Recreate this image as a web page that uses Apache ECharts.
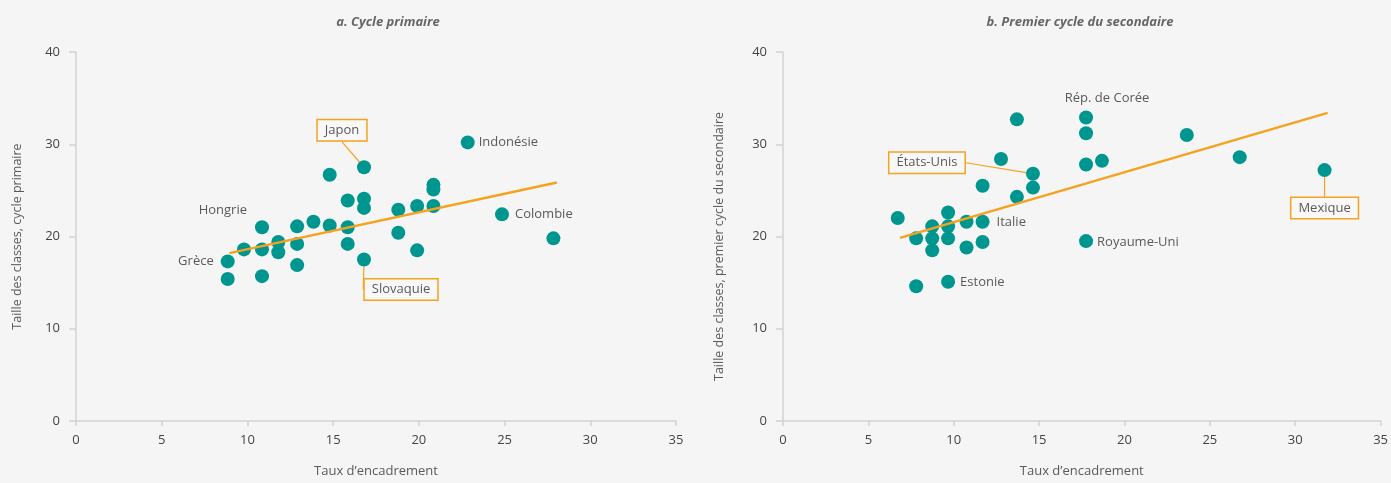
<!DOCTYPE html>
<html>
<head>
<meta charset="utf-8">
<script src="https://cdn.jsdelivr.net/npm/echarts@6/dist/echarts.min.js"></script>
<style>
html,body{margin:0;padding:0;background:#f5f5f5;}
#c{width:1391px;height:483px;}
</style>
</head>
<body>
<div id="c"></div>
<script>
// ---- Data ----
const titles = ['a. Cycle primaire', 'b. Premier cycle du secondaire'];
const xAxisName = 'Taux d\u2019encadrement';
const yAxisNames = ['Taille des classes, cycle primaire', 'Taille des classes, premier cycle du secondaire'];
const xTicks = [0, 5, 10, 15, 20, 25, 30, 35];
const yTicks = [0, 10, 20, 30, 40];

// Panel a: primary
const primaryRatio = [8.85, 8.85, 9.8, 10.85, 10.85, 10.85, 11.8, 11.8, 12.9, 12.9, 12.9, 13.85, 14.8, 14.8, 15.85, 15.85, 15.85, 16.8, 16.8, 16.8, 16.8, 18.8, 18.8, 19.9, 19.9, 20.85, 20.85, 20.85, 22.85, 24.85, 27.85];
const primarySize  = [17.3, 15.4, 18.6, 21.0, 18.6, 15.7, 19.4, 18.3, 21.1, 19.2, 16.9, 21.6, 26.7, 21.2, 23.9, 21.0, 19.2, 27.5, 24.1, 23.1, 17.5, 22.9, 20.4, 23.3, 18.5, 25.6, 25.1, 23.3, 30.2, 22.4, 19.8];
const primaryLabel = ['Grèce', '', '', 'Hongrie', '', '', '', '', '', '', '', '', '', '', '', '', '', 'Japon', '', '', 'Slovaquie', '', '', '', '', '', '', '', 'Indonésie', 'Colombie', ''];
const primaryTrend = [[8.95, 18.2], [28.05, 25.85]];

// Panel b: lower secondary
const secondaryRatio = [6.72, 7.8, 7.8, 8.74, 8.74, 8.74, 9.67, 9.67, 9.67, 9.67, 10.75, 10.75, 11.69, 11.69, 11.69, 12.77, 13.7, 13.7, 14.64, 14.64, 17.75, 17.75, 17.75, 17.75, 18.68, 23.65, 26.75, 31.72];
const secondarySize  = [22.0, 19.8, 14.6, 21.1, 19.8, 18.5, 22.6, 21.1, 19.8, 15.1, 21.6, 18.8, 21.6, 19.4, 25.5, 28.4, 32.7, 24.3, 26.8, 25.3, 32.9, 31.2, 27.8, 19.5, 28.2, 31.0, 28.6, 27.2];
const secondaryLabel = ['', '', '', '', '', '', '', '', '', 'Estonie', '', '', 'Italie', '', '', '', '', '', 'États-Unis', '', 'Rép. de Corée', '', '', 'Royaume-Uni', '', '', '', 'Mexique'];
const secondaryTrend = [[6.85, 19.85], [31.9, 33.4]];

// ---- Styles (label placement in pixels relative to the dot) ----
const labelStyles = {
  'Grèce':        {dx: -14, dy: 0,   align: 'right',  boxed: false},
  'Hongrie':      {dx: -15, dy: -17, align: 'right',  boxed: false},
  'Japon':        {dx: -22, dy: -37, align: 'center', boxed: true},
  'Slovaquie':    {dx: 37,  dy: 30,  align: 'center', boxed: true},
  'Indonésie':    {dx: 11,  dy: 0,   align: 'left',   boxed: false},
  'Colombie':     {dx: 13,  dy: 0,   align: 'left',   boxed: false},
  'Estonie':      {dx: 12,  dy: 1,   align: 'left',   boxed: false},
  'Italie':       {dx: 14,  dy: 1,   align: 'left',   boxed: false},
  'États-Unis':   {dx: -106,dy: -11, align: 'center', boxed: true},
  'Rép. de Corée':{dx: 21,  dy: -19, align: 'center', boxed: false},
  'Royaume-Uni':  {dx: 11,  dy: 1,   align: 'left',   boxed: false},
  'Mexique':      {dx: 0,   dy: 38,  align: 'center', boxed: true}
};
const FONT = '"Open Sans", sans-serif';
const TEXT = '#5a5a5a';
const TEAL = '#009690';
const ORANGE = '#F5A21F';
const AXIS = '#d2d2d2';

function buildData(xs, ys, names) {
  return xs.map((x, i) => {
    const n = names[i];
    const item = {value: [x, ys[i]], name: n};
    if (n) {
      const s = labelStyles[n];
      item.label = s.boxed ? {
        show: true, formatter: '{b}', color: TEXT, fontSize: 13, fontFamily: FONT,
        padding: [4, 7, 3, 7], borderColor: ORANGE, borderWidth: 1.5, backgroundColor: '#f8f8f8'
      } : {
        show: true, formatter: '{b}', color: TEXT, fontSize: 13, fontFamily: FONT
      };
      if (s.boxed) item.labelLine = {show: true, lineStyle: {color: ORANGE, width: 1.2}};
    }
    return item;
  });
}

const seriesNames = [primaryLabel, secondaryLabel];
function makeLayout(panel) {
  return function (p) {
    const n = seriesNames[panel][p.dataIndex];
    const s = labelStyles[n];
    if (!s) return {};
    const cx = p.rect.x + p.rect.width / 2;
    const cy = p.rect.y + p.rect.height / 2;
    return {x: cx + s.dx, y: cy + s.dy, align: s.align, verticalAlign: 'middle'};
  };
}

const grids = [
  {left: 76, right: 715, top: 52, bottom: 60},
  {left: 783, right: 7, top: 52, bottom: 60}
];

function xAxis(i) {
  return {
    gridIndex: i, type: 'value', min: xTicks[0], max: xTicks[xTicks.length - 1], interval: 5,
    name: xAxisName, nameLocation: 'middle', nameGap: 44,
    nameTextStyle: {color: TEXT, fontSize: 13, fontFamily: FONT},
    axisLine: {show: true, lineStyle: {color: AXIS, width: 1.5}},
    axisTick: {show: true, length: 5, lineStyle: {color: AXIS, width: 1.5}},
    axisLabel: {color: '#444', fontSize: 13, fontFamily: FONT, margin: 13},
    splitLine: {show: false}
  };
}
function yAxis(i) {
  return {
    gridIndex: i, type: 'value', min: yTicks[0], max: yTicks[yTicks.length - 1], interval: 10,
    name: yAxisNames[i], nameLocation: 'middle', nameGap: i === 0 ? 52 : 57,
    nameTextStyle: {color: TEXT, fontSize: 12.5, fontFamily: FONT, padding: i === 0 ? 0 : [0, 20, 0, 0]},
    axisLine: {show: true, lineStyle: {color: AXIS, width: 1.5}},
    axisTick: {show: true, length: 7, lineStyle: {color: AXIS, width: 1.5}},
    axisLabel: {color: '#444', fontSize: 13, fontFamily: FONT, margin: 16},
    splitLine: {show: false}
  };
}

const chart = echarts.init(document.getElementById('c'), null, {renderer: 'canvas'});
chart.setOption({
  backgroundColor: '#f5f5f5',
  animation: false,
  title: [
    {text: titles[0], left: 383, top: 11, textAlign: 'center',
     textStyle: {color: '#666', fontSize: 13, fontStyle: 'italic', fontWeight: 'bold', fontFamily: FONT}},
    {text: titles[1], left: 1075, top: 11, textAlign: 'center',
     textStyle: {color: '#666', fontSize: 13, fontStyle: 'italic', fontWeight: 'bold', fontFamily: FONT}}
  ],
  grid: grids,
  xAxis: [xAxis(0), xAxis(1)],
  yAxis: [yAxis(0), yAxis(1)],
  series: [
    {
      type: 'scatter', xAxisIndex: 0, yAxisIndex: 0, symbolSize: 14,
      itemStyle: {color: TEAL, opacity: 1},
      data: buildData(primaryRatio, primarySize, primaryLabel),
      labelLayout: makeLayout(0), z: 2
    },
    {
      type: 'line', xAxisIndex: 0, yAxisIndex: 0, data: primaryTrend, symbol: 'none',
      lineStyle: {color: ORANGE, width: 2.5}, z: 3, silent: true
    },
    {
      type: 'scatter', xAxisIndex: 1, yAxisIndex: 1, symbolSize: 14,
      itemStyle: {color: TEAL, opacity: 1},
      data: buildData(secondaryRatio, secondarySize, secondaryLabel),
      labelLayout: makeLayout(1), z: 2
    },
    {
      type: 'line', xAxisIndex: 1, yAxisIndex: 1, data: secondaryTrend, symbol: 'none',
      lineStyle: {color: ORANGE, width: 2.5}, z: 3, silent: true
    }
  ]
});
</script>
</body>
</html>
